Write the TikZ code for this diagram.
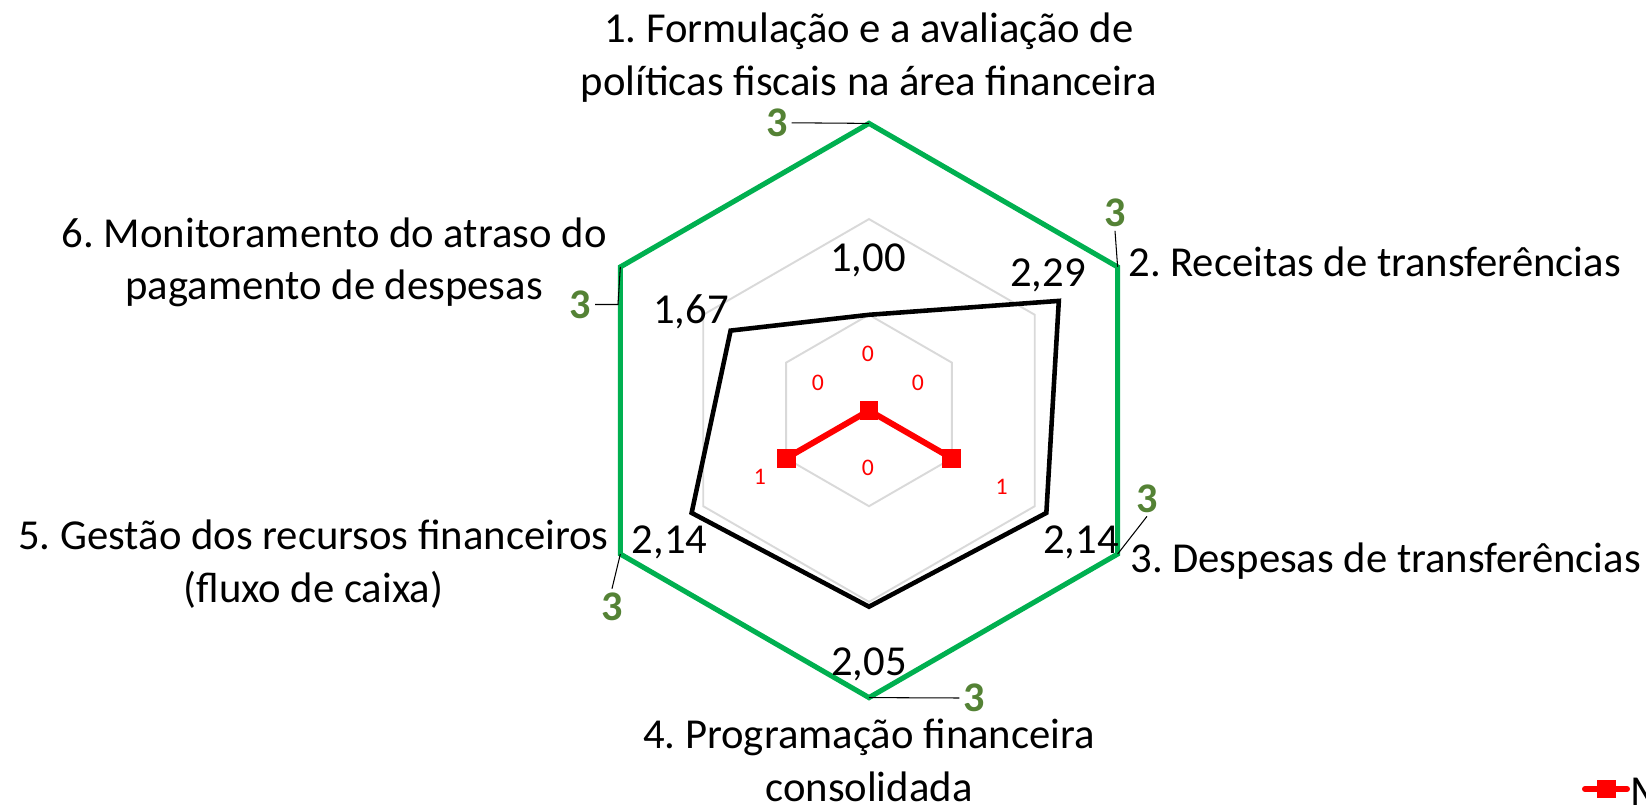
\documentclass[tikz,border=0pt]{standalone}
\usepackage{fontspec}
\setmainfont{Carlito}
\frenchspacing
\definecolor{linegreen}{RGB}{0,176,80}
\definecolor{labelgreen}{RGB}{84,130,53}
\definecolor{gridgrey}{RGB}{217,217,217}

\begin{document}
\begin{tikzpicture}[x=0.02cm,y=0.02cm,
  gridhex/.style={draw=gridgrey,line width=1.1pt},
  maxline/.style={draw=linegreen,line width=2.9pt},
  scoreline/.style={draw=black,line width=2.6pt},
  zeroline/.style={draw=red,line width=3.4pt},
  redmark/.style={fill=red,minimum size=0.38cm,inner sep=0pt},
  catlabel/.style={font=\fontsize{24.3}{29.9}\selectfont,align=center,inner sep=0pt},
  scorelabel/.style={font=\fontsize{24.3}{29}\selectfont,inner sep=0pt},
  zerolabel/.style={font=\fontsize{13.5}{16}\selectfont,text=red,inner sep=0pt},
  maxlabel/.style={font=\fontsize{24}{29}\selectfont\bfseries,text=labelgreen,inner sep=2pt},
  leader/.style={draw=black,line width=0.6pt}]

\useasboundingbox (-869,-396.5) rectangle (777,410.5);

\coordinate (o) at (0,0);
\coordinate (g1) at (90:287.1);
\coordinate (g2) at (30:287.1);
\coordinate (g3) at (-30:287.1);
\coordinate (g4) at (-90:287.1);
\coordinate (g5) at (-150:287.1);
\coordinate (g6) at (150:287.1);
\coordinate (b1) at (90:95.7);
\coordinate (b2) at (30:219.2);
\coordinate (b3) at (-30:204.8);
\coordinate (b4) at (-90:196.2);
\coordinate (b5) at (-150:204.8);
\coordinate (b6) at (150:159.8);
\coordinate (r3) at (-30:95.7);
\coordinate (r5) at (-150:95.7);

\draw[gridhex] (90:95.7) -- (30:95.7) -- (-30:95.7) -- (-90:95.7) -- (-150:95.7) -- (150:95.7) -- cycle;
\draw[gridhex] (90:191.4) -- (30:191.4) -- (-30:191.4) -- (-90:191.4) -- (-150:191.4) -- (150:191.4) -- cycle;
\draw[maxline] (g1) -- (g2) -- (g3) -- (g4) -- (g5) -- (g6) -- cycle;
\draw[scoreline] (b1) -- (b2) -- (b3) -- (b4) -- (b5) -- (b6) -- cycle;
\draw[zeroline] (r5) -- (o) -- (r3);
\node[redmark] (m5) at (r5) {};
\node[redmark] (m0) at (o) {};
\node[redmark] (m3) at (r3) {};

\node[catlabel] (c1) at (0,352.75) {1. Formulação e a avaliação de\\políticas fiscais na área financeira};
\node[catlabel,anchor=west] (c2) at (259,148.5) {2. Receitas de transferências};
\node[catlabel,anchor=west] (c3) at (261,-151) {3. Despesas de transferências};
\node[catlabel] (c4) at (0,-350) {4. Programação financeira\\consolidada};
\node[catlabel,anchor=east] (c5) at (-260,-153.8) {5. Gestão dos recursos financeiros\\(fluxo de caixa)};
\node[catlabel,anchor=east] (c6) at (-262,148) {6. Monitoramento do atraso do\\pagamento de despesas};

\node[scorelabel] (v1) at (-1,150.5) {1,00};
\node[scorelabel] (v2) at (179,135.5) {2,29};
\node[scorelabel] (v3) at (212,-132) {2,14};
\node[scorelabel] (v4) at (0,-254) {2,05};
\node[scorelabel] (v5) at (-199.3,-132) {2,14};
\node[scorelabel] (v6) at (-178,98.7) {1,67};

\node[zerolabel] (z1) at (-1,56.5) {0};
\node[zerolabel] (z2) at (49,28) {0};
\node[zerolabel] (z3) at (132.7,-76) {1};
\node[zerolabel] (z4) at (-1,-57.5) {0};
\node[zerolabel] (z5) at (-109,-66) {1};
\node[zerolabel] (z6) at (-51,28) {0};

\node[maxlabel] (t1) at (-92,287.7) {3};
\node[maxlabel] (t2) at (246,197.5) {3};
\node[maxlabel] (t3) at (278,-88) {3};
\node[maxlabel] (t4) at (105,-287.5) {3};
\node[maxlabel] (t5) at (-257,-196) {3};
\node[maxlabel] (t6) at (-288.5,106) {3};
\coordinate (k6) at (-251,106);

\draw[leader] (t1.east) -- (g1);
\draw[leader] (g2) -- (t2.south);
\draw[leader] (g3) -- (t3.south);
\draw[leader] (g4) -- (t4.west);
\draw[leader] (g5) -- (t5.north);
\draw[leader] (g6) -- (k6) -- (t6.east);

\coordinate (l1) at (716,-378.5);
\coordinate (l2) at (758,-378.5);
\draw[zeroline,line cap=round] (l1) -- (l2);
\node[redmark] (lm) at (737,-378.5) {};
\node[catlabel,anchor=west] (lt) at (761,-381.5) {M};
\end{tikzpicture}
\end{document}
